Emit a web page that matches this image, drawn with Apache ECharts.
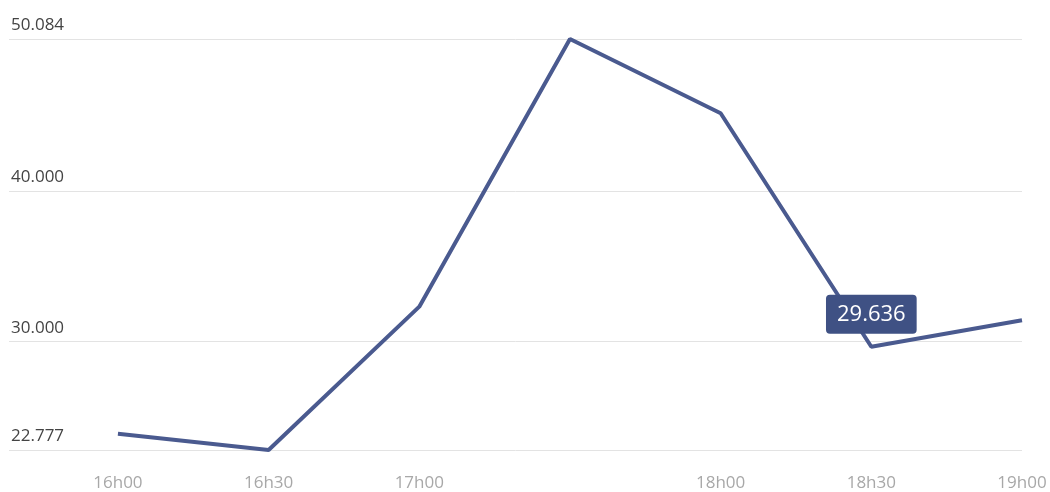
<!DOCTYPE html>
<html>
<head>
<meta charset="utf-8">
<script src="https://cdn.jsdelivr.net/npm/echarts@6/dist/echarts.min.js"></script>
<style>
    html, body { margin: 0; padding: 0; background: #fff; }
    #chart { width: 1050px; height: 492px; }
</style>
</head>
<body>
<div id="chart"></div>
<script>
var timeLabels = ['16h00', '16h30', '17h00', '17h30', '18h00', '18h30', '19h00'];
var values = [23.85, 22.777, 32.3, 50.084, 45.15, 29.636, 31.4];
var yTicks = [22.777, 30, 40, 50.084];
var xTicks = [0, 1, 2, 4, 5, 6];
var labelIndex = 5;

var myChart = echarts.init(document.getElementById('chart'));

var seriesData = [];
for (var i = 0; i < values.length; i++) {
    var item = { value: [i, values[i]] };
    if (i == labelIndex) {
        item.label = {
            show: true,
            position: 'top',
            distance: 13,
            formatter: function (p) { return p.value[1].toFixed(3); },
            color: '#fff',
            fontSize: 22,
            fontFamily: 'Open Sans',
            backgroundColor: '#3f5184',
            borderRadius: 4,
            padding: [9, 11, 8, 11]
        };
    }
    seriesData.push(item);
}

var option = {
    animation: false,
    grid: {
        left: 9,
        right: 28,
        top: 39,
        bottom: 42,
        containLabel: false
    },
    xAxis: {
        type: 'value',
        min: -0.723,
        max: 6,
        axisLine: { show: false },
        axisTick: { show: false },
        splitLine: { show: false },
        axisLabel: {
            customValues: xTicks,
            margin: 25,
            color: '#a8a8a8',
            fontSize: 17,
            fontFamily: 'Open Sans',
            formatter: function (v) { return timeLabels[Math.round(v)]; }
        }
    },
    yAxis: {
        type: 'value',
        min: 22.777,
        max: 50.084,
        axisLine: { show: false },
        axisTick: { show: false, customValues: yTicks },
        splitLine: { show: true, lineStyle: { color: '#e3e3e3', width: 1 } },
        axisLabel: {
            customValues: yTicks,
            inside: true,
            margin: 2,
            verticalAlign: 'bottom',
            padding: [0, 0, 5, 0],
            color: '#444',
            fontSize: 17,
            fontFamily: 'Open Sans',
            formatter: function (v) { return v.toFixed(3); }
        }
    },
    series: [{
        type: 'line',
        data: seriesData,
        showSymbol: true,
        symbol: 'circle',
        symbolSize: 0,
        lineStyle: { color: '#4a5a8f', width: 4 },
        itemStyle: { color: '#4a5a8f' }
    }]
};

myChart.setOption(option);
</script>
</body>
</html>
